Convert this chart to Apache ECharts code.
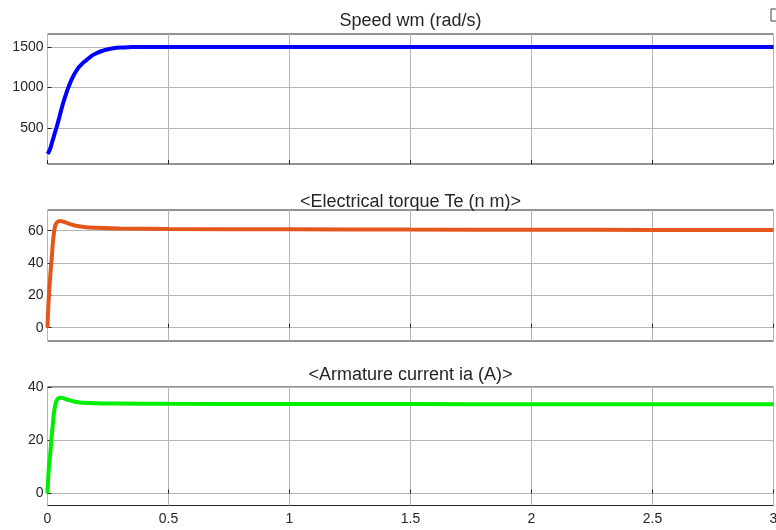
<!DOCTYPE html>
<html>
<head>
<meta charset="utf-8">
<script src="https://cdn.jsdelivr.net/npm/echarts@6/dist/echarts.min.js"></script>
<style>html,body{margin:0;padding:0;background:#fff;}#c{width:776px;height:530px;}</style>
</head>
<body>
<div id="c"></div>
<script>
const titles = ['Speed wm (rad/s)', '<Electrical torque Te (n m)>', '<Armature current ia (A)>'];
const xTicks = [0, 0.5, 1, 1.5, 2, 2.5, 3];

const speedT = [0, 0.01, 0.02, 0.03, 0.04, 0.05, 0.06, 0.07, 0.08, 0.09, 0.1, 0.12, 0.14, 0.16, 0.18, 0.2, 0.23, 0.26, 0.3, 0.35, 0.4, 0.5, 1, 1.5, 2, 2.5, 3];
const speedV = [181, 235, 335, 435, 535, 645, 760, 860, 948, 1030, 1100, 1210, 1283, 1337, 1385, 1420, 1455, 1478, 1493, 1499, 1501, 1501, 1500, 1500, 1499, 1499, 1499];
const speedTicks = [500, 1000, 1500];

const elecT = [0, 0.003, 0.006, 0.01, 0.014, 0.018, 0.022, 0.027, 0.032, 0.038, 0.045, 0.055, 0.065, 0.08, 0.1, 0.12, 0.15, 0.2, 0.3, 0.5, 1, 1.5, 2, 2.5, 3];
const torqueV = [0, 12, 20, 29, 37, 44, 52, 59, 63, 65, 65.8, 66, 65.6, 64.8, 63.8, 63.0, 62.3, 61.8, 61.4, 61.1, 60.9, 60.7, 60.6, 60.5, 60.4];
const torqueTicks = [0, 20, 40, 60];

const currentV = [0, 6, 10, 13.7, 18, 22, 26, 30.5, 33, 35, 35.7, 36, 35.8, 35.3, 34.8, 34.4, 34.1, 33.9, 33.8, 33.7, 33.6, 33.6, 33.5, 33.5, 33.5];
const currentTicks = [0, 20, 40];

const pairs = (t, v) => t.map((x, i) => [x, v[i]]);

const grids = [
  {left: 47.5, right: 2.5, top: 34, height: 130},
  {left: 47.5, right: 2.5, top: 210, height: 131},
  {left: 47.5, right: 2.5, top: 387, height: 118.5}
].map(g => Object.assign(g, {show: true, borderColor: '#262626', borderWidth: 1, backgroundColor: '#fff', containLabel: false, outerBoundsMode: 'none'}));

const yRanges = [[56, 1660], [-8.2, 72.8], [-4.5, 40]];
const yTicks = [speedTicks, torqueTicks, currentTicks];
const labelStyle = {color: '#262626', fontFamily: 'Liberation Sans, Arial, sans-serif', fontSize: 14};
const gridLine = {show: true, lineStyle: {color: '#b5b5b5', width: 1}};

const xAxes = [0, 1, 2].map(i => ({
  type: 'value', gridIndex: i, min: 0, max: 3, interval: 0.5,
  axisLine: {show: false},
  axisTick: {show: true, inside: true, length: 4, lineStyle: {color: '#262626'}},
  axisLabel: Object.assign({show: i === 2, margin: 7, hideOverlap: false, formatter: v => String(v)}, labelStyle),
  splitLine: gridLine
}));

const yAxes = [0, 1, 2].map(i => ({
  type: 'value', gridIndex: i, min: yRanges[i][0], max: yRanges[i][1],
  axisLine: {show: false},
  axisTick: {show: true, inside: true, length: 4, lineStyle: {color: '#262626'}, customValues: yTicks[i]},
  axisLabel: Object.assign({show: true, margin: 4, customValues: yTicks[i], formatter: v => String(v)}, labelStyle),
  splitLine: gridLine
}));

const colors = ['#0000ff', '#e3571c', '#00ee00'];
const datas = [pairs(speedT, speedV), pairs(elecT, torqueV), pairs(elecT, currentV)];

const option = {
  animation: false,
  backgroundColor: '#fff',
  title: titles.map((t, i) => ({
    text: t, left: 410.5, textAlign: 'center', top: [12, 193, 366][i], padding: 0,
    textStyle: {color: '#262626', fontFamily: 'Liberation Sans, Arial, sans-serif', fontSize: 18, fontWeight: 'normal'}
  })),
  grid: grids,
  xAxis: xAxes,
  yAxis: yAxes,
  series: datas.map((d, i) => ({
    type: 'line', xAxisIndex: i, yAxisIndex: i, data: d,
    showSymbol: false, smooth: 0.5, clip: true,
    lineStyle: {color: colors[i], width: 4}
  })),
  graphic: [{type: 'rect', shape: {x: 771, y: 9, width: 8, height: 12}, style: {fill: '#fff', stroke: '#444', lineWidth: 1}}]
};

echarts.init(document.getElementById('c')).setOption(option);
</script>
</body>
</html>
